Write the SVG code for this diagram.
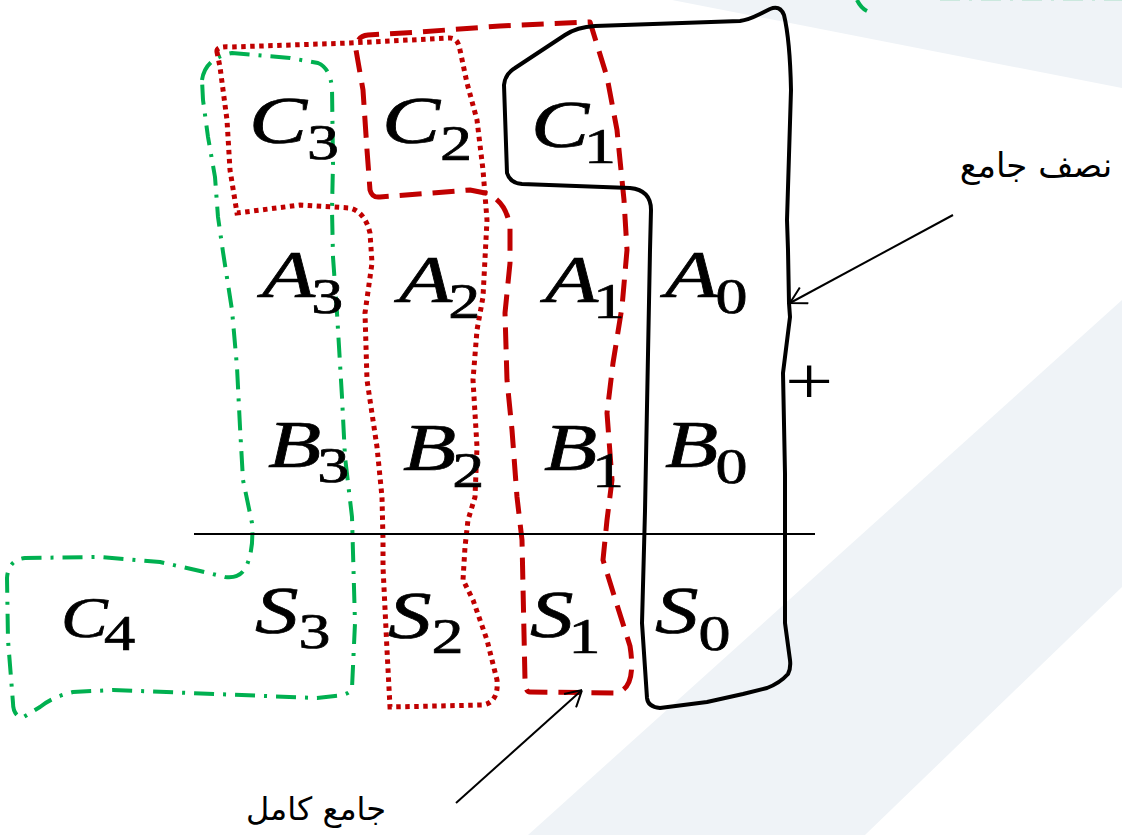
<svg xmlns="http://www.w3.org/2000/svg" width="1122" height="835" viewBox="0 0 1122 835">
<defs>
<style>
.bg{fill:#eff3f7;stroke:none}
.blk{fill:none;stroke:#000;stroke-width:4;stroke-linejoin:round;stroke-linecap:round}
.rdash{fill:none;stroke:#c00000;stroke-width:5;stroke-dasharray:22 11;stroke-linejoin:round}
.rdot{fill:none;stroke:#c00000;stroke-width:5;stroke-dasharray:4.5 4.5}
.grn{fill:none;stroke:#00b050;stroke-width:4;stroke-dasharray:20 9 3 9;stroke-linejoin:round}
.v{font-family:"Liberation Serif","Times New Roman",serif;font-style:italic;font-size:68px;fill:#000;stroke:#000;stroke-width:0.7}
.sub{font-style:normal;font-size:50px}
.ar{font-family:"DejaVu Sans",sans-serif;font-size:34px;fill:#000}
.conn{fill:none;stroke:#000;stroke-width:2}
</style>
<marker id="arr" viewBox="0 0 20 20" refX="20" refY="10" markerWidth="20" markerHeight="20" markerUnits="userSpaceOnUse" orient="auto">
<path d="M 4 1 L 20 10 L 4 19" fill="none" stroke="#000" stroke-width="2"/>
</marker>
</defs>
<rect width="1122" height="835" fill="#fff"/>
<g id="background">
<polygon class="bg" points="672,0 1122,0 1122,88"/>
<polygon class="bg" points="1122,300 1122,587 865,835 528,835"/>
</g>
<g id="offscreen-shape">
<path d="M 857 0 Q 861 8 867 11" fill="none" stroke="#00b050" stroke-width="4"/>
<path class="grn" d="M 940 -1.8 L 1122 -1.8" opacity="0.6"/>
</g>
<g id="full-adder-3">
<path class="grn" d="M 202 80 Q 205 58 232 53 L 290 58 L 318 63 Q 330 68 332 88 L 333 163 L 332 210 L 333 257 L 337 313 L 342 397 L 345 457 L 352 517 L 355 623 L 352 688 Q 350 695 335 696 L 317 698 L 113 690 L 73 692 Q 52 697 40 707 L 22 718 Q 13 715 13 703 L 8 640 L 7 578 Q 8 560 25 558 L 100 557 L 160 562 L 200 571 L 225 577 Q 240 579 246 567 Q 254 550 252 523 L 243 480 L 240 427 L 237 367 L 232 310 L 223 252 L 218 217 L 215 177 L 208 137 L 203 100 Z"/>
</g>
<g id="full-adder-2">
<path class="rdot" d="M 217 52 Q 216 46 230 47 L 350 43 L 450 38 Q 458 38 460 50 L 467 83 L 477 120 L 483 170 L 487 220 L 483 297 L 477 330 L 473 380 L 477 447 L 475 497 L 468 520 L 465 547 L 463 580 L 473 600 L 487 640 L 497 680 Q 499 702 483 705 L 390 707 L 387 650 L 383 567 L 383 540 L 382 497 L 377 447 L 367 380 L 365 313 L 372 263 L 370 233 Q 365 212 350 208 L 300 205 L 237 213 L 230 170 L 227 120 L 220 67 Z"/>
</g>
<g id="full-adder-1">
<path class="rdash" d="M 380 197 Q 372 198 370 190 L 367 150 L 363 90 L 356 50 Q 356 36 368 35 L 420 32 L 500 26 L 590 22 L 607 77 L 617 130 L 624 200 L 627 250 L 622 307 L 613 363 L 607 413 L 612 480 L 607 520 L 603 560 L 617 605 L 630 646 Q 637 690 615 693 L 530 692 Q 525 692 525 680 L 522 540 L 517 497 L 512 430 L 507 380 L 505 313 L 510 263 L 510 227 Q 506 200 485 193 L 470 190 Z"/>
</g>
<g id="half-adder">
<path class="blk" d="M 507 173 Q 510 183 522 184 L 630 188 Q 651 190 651 210 L 650 250 L 645 511 L 642 623 L 647 698 Q 648 707 660 708 L 707 702 L 743 694 L 767 688 Q 780 683 788 674 Q 791 668 790 660 L 785 623 L 785 474 L 783 373 L 790 317 L 789 303 L 788 250 L 787 220 L 791 90 Q 790 40 784 15 Q 780 5 770 9 L 760 14 Q 748 20 740 21 L 595 26 Q 577 27 565 35 L 515 68 Q 505 74 504 85 Z"/>
</g>
<g id="labels">
<text id="lbl-c3" class="v" transform="translate(249,143) scale(1.28 1)">C<tspan class="sub" dy="16">3</tspan></text>
<text id="lbl-c2" class="v" transform="translate(382,143) scale(1.28 1)">C<tspan class="sub" dy="17">2</tspan></text>
<text id="lbl-c1" class="v" transform="translate(531,147) scale(1.28 1)">C<tspan class="sub" dy="16" dx="-4">1</tspan></text>
<text id="lbl-a3" class="v" transform="translate(262,297) scale(1.28 1)">A<tspan class="sub" dy="16" dx="-3">3</tspan></text>
<text id="lbl-a2" class="v" transform="translate(399,302) scale(1.28 1)">A<tspan class="sub" dy="16" dx="-3">2</tspan></text>
<text id="lbl-a1" class="v" transform="translate(545,302) scale(1.28 1)">A<tspan class="sub" dy="16" dx="-4">1</tspan></text>
<text id="lbl-a0" class="v" transform="translate(665,297) scale(1.28 1)">A<tspan class="sub" dy="16" dx="-2">0</tspan></text>
<text id="lbl-b3" class="v" transform="translate(268,467) scale(1.28 1)">B<tspan class="sub" dy="15" dx="-3">3</tspan></text>
<text id="lbl-b2" class="v" transform="translate(403,470) scale(1.28 1)">B<tspan class="sub" dy="17" dx="-3">2</tspan></text>
<text id="lbl-b1" class="v" transform="translate(544,470) scale(1.28 1)">B<tspan class="sub" dy="17" dx="-4">1</tspan></text>
<text id="lbl-b0" class="v" transform="translate(665,467) scale(1.28 1)">B<tspan class="sub" dy="16" dx="-2">0</tspan></text>
<text id="lbl-s3" class="v" transform="translate(255,633) scale(1.28 1)">S<tspan class="sub" dy="15">3</tspan></text>
<text id="lbl-s2" class="v" transform="translate(388,638) scale(1.28 1)">S<tspan class="sub" dy="15">2</tspan></text>
<text id="lbl-s1" class="v" transform="translate(530,637) scale(1.28 1)">S<tspan class="sub" dy="16" dx="-4">1</tspan></text>
<text id="lbl-s0" class="v" transform="translate(655,633) scale(1.28 1)">S<tspan class="sub" dy="17">0</tspan></text>
<text id="lbl-c4" class="v" style="font-size:56px" transform="translate(61,637) scale(1.25 1)">C<tspan class="sub" dy="13" dx="-3">4</tspan></text>
</g>
<g id="connectors">
<line class="conn" x1="194" y1="534" x2="815" y2="534"/>
<text id="plus" x="0" y="0" transform="translate(785,404) scale(1.26 1)" style="font-family:'Liberation Serif',serif;font-size:68px">+</text>
<line class="conn" x1="953" y1="215" x2="790" y2="303" marker-end="url(#arr)"/>
<line class="conn" x1="456" y1="803" x2="582" y2="690" marker-end="url(#arr)"/>
</g>
<g id="text-labels">
<text class="ar" x="1036" y="177" text-anchor="middle" direction="rtl">نصف جامع</text>
<text class="ar" style="font-size:32px" x="316" y="820" text-anchor="middle" direction="rtl">جامع كامل</text>
</g>
</svg>
